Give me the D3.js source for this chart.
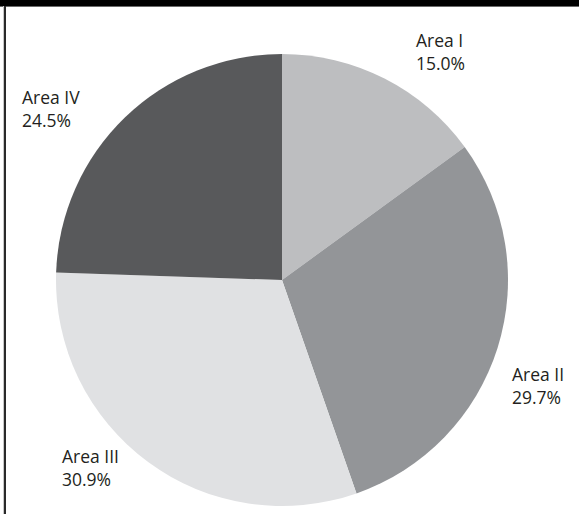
<!DOCTYPE html>
<html>
<head>
<meta charset="utf-8">
<script src="https://cdn.jsdelivr.net/npm/d3@7"></script>
<style>
  html, body { margin: 0; padding: 0; background: #fff; }
  svg { display: block; }
  text { font-family: "Open Sans", Lato, sans-serif; font-size: 17.5px; fill: #231f20; }
</style>
</head>
<body>
<svg id="chart" width="579" height="514"></svg>
<script>
// Share of total by area (percent)
const areas = ["Area I", "Area II", "Area III", "Area IV"];
const shares = [15.0, 29.7, 30.9, 24.5];
const sliceColors = ["#bdbec0", "#939598", "#e0e1e3", "#58595b"];

// Label anchor points (baseline of the first line of each label)
const labelAnchors = [[416, 47], [512, 381], [62, 463], [22, 104]];

const W = 579, H = 514;
const cx = 282, cy = 280, radius = 226;

const svg = d3.select("#chart");

// Frame: dark band along the top and a rule down the left side
svg.append("rect").attr("x", 0).attr("y", 0).attr("width", W).attr("height", 6).attr("fill", "#000");
svg.append("line").attr("x1", 0).attr("x2", W).attr("y1", 6.5).attr("y2", 6.5)
  .attr("stroke", "#6a6a6a").attr("stroke-width", 1);
svg.append("line").attr("x1", 3.5).attr("x2", 3.5).attr("y1", 6).attr("y2", H)
  .attr("stroke", "#c8c8c8").attr("stroke-width", 1);
svg.append("line").attr("x1", 5).attr("x2", 5).attr("y1", 6).attr("y2", H)
  .attr("stroke", "#2a2a2a").attr("stroke-width", 2);

const data = areas.map((name, i) => ({ name, value: shares[i], color: sliceColors[i] }));

const pie = d3.pie().sort(null).value(d => d.value);
const arc = d3.arc().innerRadius(0).outerRadius(radius);

const g = svg.append("g").attr("transform", `translate(${cx},${cy})`);
g.selectAll("path")
  .data(pie(data))
  .join("path")
  .attr("d", arc)
  .attr("fill", d => d.data.color);

const labels = svg.append("g").selectAll("text")
  .data(data)
  .join("text")
  .attr("x", (d, i) => labelAnchors[i][0])
  .attr("y", (d, i) => labelAnchors[i][1]);
labels.append("tspan").text(d => d.name);
labels.append("tspan")
  .attr("x", (d, i) => labelAnchors[i][0])
  .attr("dy", 22.5)
  .text(d => d3.format(".1f")(d.value) + "%");
</script>
</body>
</html>
